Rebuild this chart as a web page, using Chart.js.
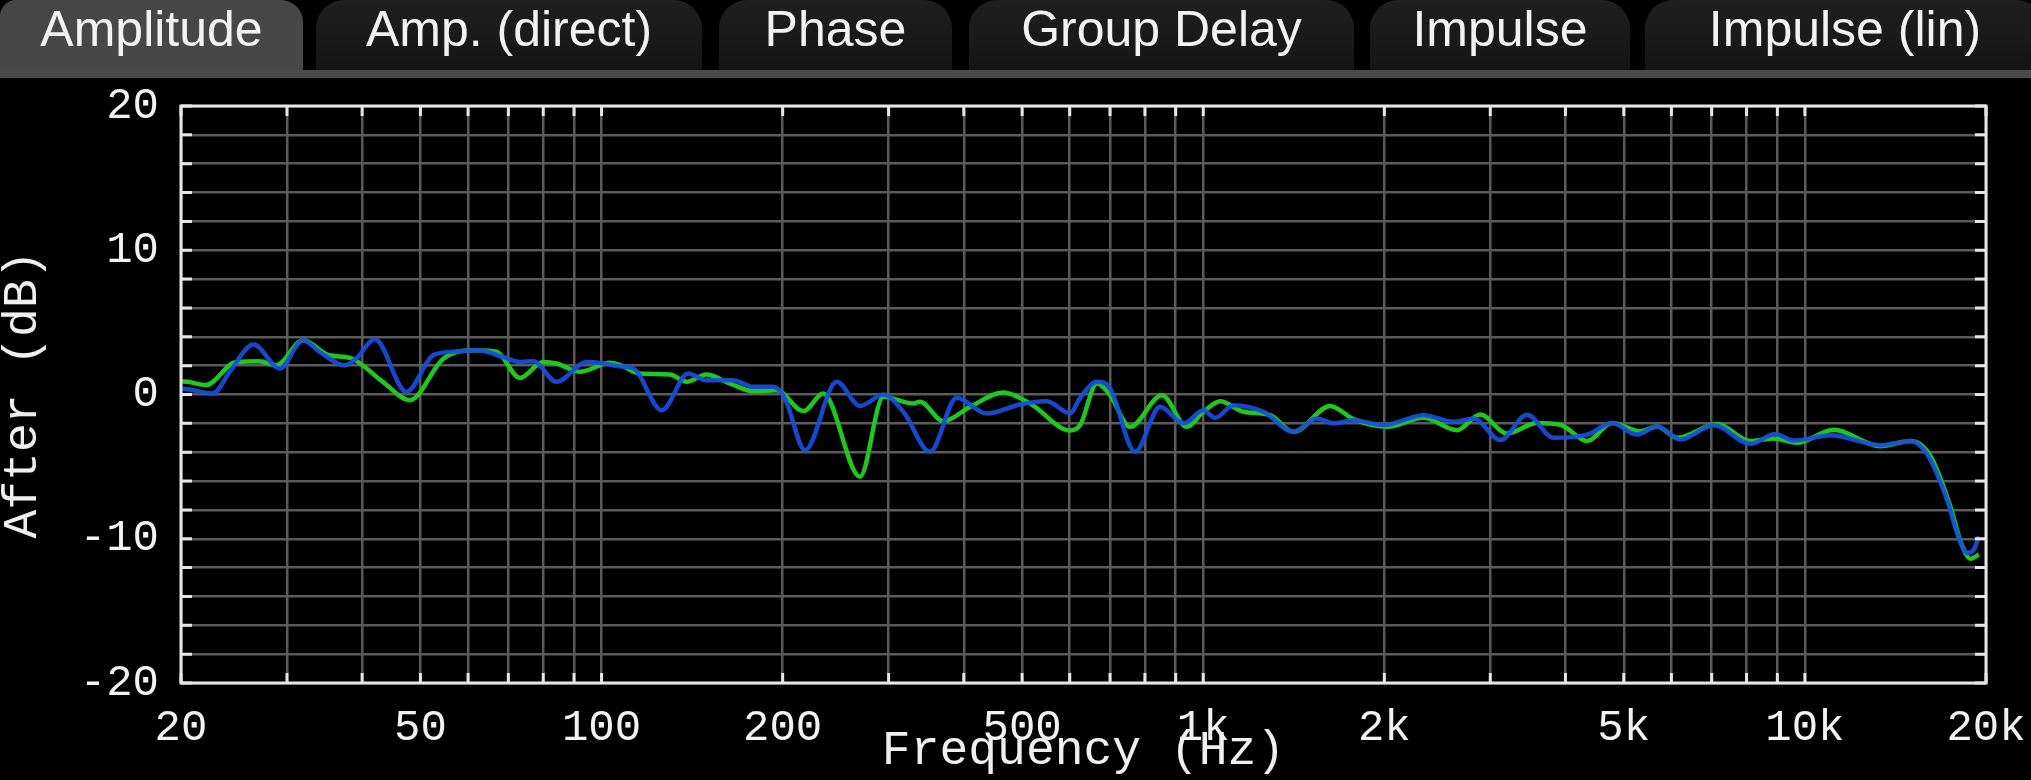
<!DOCTYPE html>
<html>
<head>
<meta charset="utf-8">
<script src="https://cdn.jsdelivr.net/npm/chart.js@4.4.1/dist/chart.umd.min.js"></script>
<style>
  body { margin: 0; background: #000; width: 2031px; height: 780px; overflow: hidden; position: relative; }
  .tab { position: absolute; top: 0; height: 70px; line-height: 66px; text-align: center;
         font: 50px "Liberation Sans", Arial, sans-serif; color: #f2f2f2; white-space: nowrap;
         background: linear-gradient(#1f1f1f, #151515); border-radius: 28px 28px 0 0; }
  .tab.active { background: #474747; border-radius: 16px 22px 0 0; }
  #band { position: absolute; left: 0; top: 70px; width: 2031px; height: 8px; background: #4a4a4a; }
  #grafico_amp { position: absolute; left: 0; top: 78px; }
</style>
</head>
<body>
<div class="tab active" style="left:0;width:303px">Amplitude</div>
<div class="tab" style="left:316px;width:386px">Amp. (direct)</div>
<div class="tab" style="left:719px;width:233px">Phase</div>
<div class="tab" style="left:969px;width:385px">Group Delay</div>
<div class="tab" style="left:1370px;width:260px">Impulse</div>
<div class="tab" style="left:1645px;width:400px">Impulse (lin)</div>
<div id="band"></div>
<canvas id="grafico_amp" width="2031" height="702"></canvas>
<script>
// freq (Hz) / level (dB)
const freqBlue = [20, 20.5, 22.6, 24.1, 26.4, 29.2, 31.9, 34.0, 37.4, 39.1, 42.0, 47.4, 52.5, 56.7, 62.4, 68.6, 73.2, 77.0, 84.2, 94.5, 100.7, 107, 113, 125.9, 139.3, 149.4, 165.6, 178.7, 192.9, 201.8, 217.9, 245.9, 268.9, 294.0, 317.4, 351.5, 389.4, 436.8, 496.2, 549.6, 600.9, 624.3, 665.9, 700.4, 770.7, 848, 927.2, 1001, 1047, 1123, 1259, 1413, 1545, 1647, 1778, 1994, 2324, 2607, 2814, 3117, 3452, 3823, 4346, 4780, 5260, 5681, 6209, 7055, 8119, 8934, 9579, 11024, 13352, 14976, 15966, 17240, 17912, 18612, 19094, 19462];
const dbBlue = [0.4, 0.37, 0.07, 1.57, 3.46, 1.8, 3.76, 2.96, 2.03, 2.5, 3.83, 0.18, 2.72, 2.96, 3.07, 2.6, 2.26, 2.3, 0.88, 2.26, 2.15, 1.95, 1.8, -1.09, 1.45, 0.99, 0.99, 0.53, 0.53, -0.28, -3.86, 0.88, -0.79, 0, -1.2, -3.97, -0.23, -1.32, -0.69, -0.46, -1.3, -0.23, 0.88, 0.42, -3.97, -0.85, -2.0, -1.09, -1.62, -0.74, -1.2, -2.59, -1.66, -2.0, -1.78, -2.12, -1.43, -1.89, -1.66, -3.16, -1.41, -3.0, -2.78, -1.98, -2.78, -2.21, -3.12, -2.14, -3.42, -2.73, -3.19, -2.82, -3.51, -3.23, -4.15, -7.33, -9.61, -10.98, -10.75, -9.84];
const freqGreen = [20, 20.5, 22.0, 24.7, 27.0, 28.8, 31.9, 35.3, 38.2, 43.3, 48.0, 54.6, 62.0, 66.9, 73.2, 80.0, 84.2, 92.1, 103.3, 108, 115.8, 129.9, 138.5, 149.4, 163.5, 178.7, 195.4, 216.5, 233.6, 268.9, 294.0, 329.8, 338.3, 369.9, 409.8, 465.5, 515.6, 600.9, 624.3, 665.9, 700.4, 756, 853.7, 939.3, 1001, 1067, 1167, 1292, 1413, 1626, 1778, 2020, 2324, 2641, 2887, 3198, 3588, 3923, 4346, 4780, 5327, 5681, 6131, 7147, 8119, 8877, 9704, 11165, 13352, 14976, 16170, 17460, 18144, 18850, 19462];
const dbGreen = [0.9, 0.88, 0.65, 2.26, 2.3, 2.03, 3.76, 2.72, 2.54, 0.88, -0.39, 2.49, 3.07, 2.96, 1.15, 2.26, 2.15, 1.57, 2.2, 2.0, 1.45, 1.39, 0.88, 1.39, 0.76, 0.23, 0.3, -1.15, 0.07, -5.7, -0.16, -0.62, -0.51, -1.85, -0.85, 0.14, -0.62, -2.5, -2.12, 0.76, -0.05, -2.24, -0.05, -2.24, -1.2, -0.46, -1.2, -1.43, -2.59, -0.79, -1.71, -2.24, -1.62, -2.47, -1.39, -2.7, -1.98, -2.1, -3.23, -1.98, -2.55, -2.21, -3.0, -2.05, -3.23, -3.05, -3.35, -2.44, -3.58, -3.23, -4.26, -7.79, -10.18, -11.39, -11.09];

const xGrid = [20, 30, 40, 50, 60, 70, 80, 90, 100, 200, 300, 400, 500, 600, 700, 800, 900, 1000, 2000, 3000, 4000, 5000, 6000, 7000, 8000, 9000, 10000, 20000];
const xLabelValues = [20, 50, 100, 200, 500, 1000, 2000, 5000, 10000, 20000];
const xLabelText = ['20', '50', '100', '200', '500', '1k', '2k', '5k', '10k', '20k'];

const toPoints = (xs, ys) => xs.map((x, i) => ({ x: x, y: ys[i] }));

// frame, inward ticks and the two axis titles
const frame = {
  id: 'frame',
  afterDraw(chart) {
    const { ctx, chartArea: a, scales } = chart;
    ctx.save();
    ctx.strokeStyle = '#e6e6e6';
    ctx.lineWidth = 3;
    ctx.beginPath();
    scales.x.ticks.forEach(t => {
      const px = scales.x.getPixelForValue(t.value);
      ctx.moveTo(px, a.bottom); ctx.lineTo(px, a.bottom - 10);
      ctx.moveTo(px, a.top); ctx.lineTo(px, a.top + 10);
    });
    scales.y.ticks.forEach(t => {
      const py = scales.y.getPixelForValue(t.value);
      ctx.moveTo(a.left, py); ctx.lineTo(a.left + 11, py);
      ctx.moveTo(a.right, py); ctx.lineTo(a.right - 11, py);
    });
    ctx.stroke();
    ctx.strokeRect(a.left, a.top, a.right - a.left, a.bottom - a.top);

    ctx.fillStyle = '#efefef';
    ctx.font = '48px "Liberation Mono", monospace';
    ctx.textAlign = 'center';
    ctx.textBaseline = 'middle';
    ctx.fillText('Frequency (Hz)', (a.left + a.right) / 2, a.bottom + 68);
    ctx.translate(23, (a.top + a.bottom) / 2);
    ctx.rotate(-Math.PI / 2);
    ctx.fillText('After (dB)', 0, 0);
    ctx.restore();
  }
};

const ctx = document.getElementById('grafico_amp').getContext('2d');
const meuGrafico = new Chart(ctx, {
  type: 'line',
  data: {
    datasets: [{
      label: 'After (blue)',
      data: toPoints(freqBlue, dbBlue),
      borderColor: 'rgba(24, 78, 222, 0.92)',
      borderWidth: 4.5,
      pointRadius: 0,
      cubicInterpolationMode: 'monotone'
    }, {
      label: 'After (green)',
      data: toPoints(freqGreen, dbGreen),
      borderColor: '#1ec81e',
      borderWidth: 4.5,
      pointRadius: 0,
      cubicInterpolationMode: 'monotone'
    }]
  },
  options: {
    responsive: false,
    devicePixelRatio: 1,
    animation: false,
    layout: { padding: { top: 28, right: 45, left: 0, bottom: 0 } },
    plugins: {
      legend: { display: false },
      tooltip: { enabled: false }
    },
    scales: {
      x: {
        type: 'logarithmic',
        min: 20,
        max: 20000,
        afterBuildTicks: (scale) => { scale.ticks = xGrid.map(v => ({ value: v })); },
        afterFit: (scale) => {
          scale.height = 97;
          scale.paddingLeft = 0;
          scale.paddingRight = 0;
        },
        grid: { color: '#5a5a5a', lineWidth: 2.5, drawTicks: false },
        border: { display: false },
        ticks: {
          autoSkip: false,
          maxRotation: 0,
          padding: 19,
          color: '#f2f2f2',
          font: { family: 'Liberation Mono', size: 44 },
          callback: (value) => {
            const i = xLabelValues.indexOf(value);
            return i >= 0 ? xLabelText[i] : '';
          }
        }
      },
      y: {
        min: -20,
        max: 20,
        afterFit: (scale) => {
          scale.width = 181;
          scale.paddingTop = 0;
          scale.paddingBottom = 0;
        },
        grid: { color: '#5a5a5a', lineWidth: 2.5, drawTicks: false },
        border: { display: false },
        ticks: {
          stepSize: 2,
          autoSkip: false,
          padding: 22,
          color: '#f2f2f2',
          font: { family: 'Liberation Mono', size: 44 },
          callback: (value) => (value % 10 === 0 ? String(value) : '')
        }
      }
    }
  },
  plugins: [frame]
});
</script>
</body>
</html>
